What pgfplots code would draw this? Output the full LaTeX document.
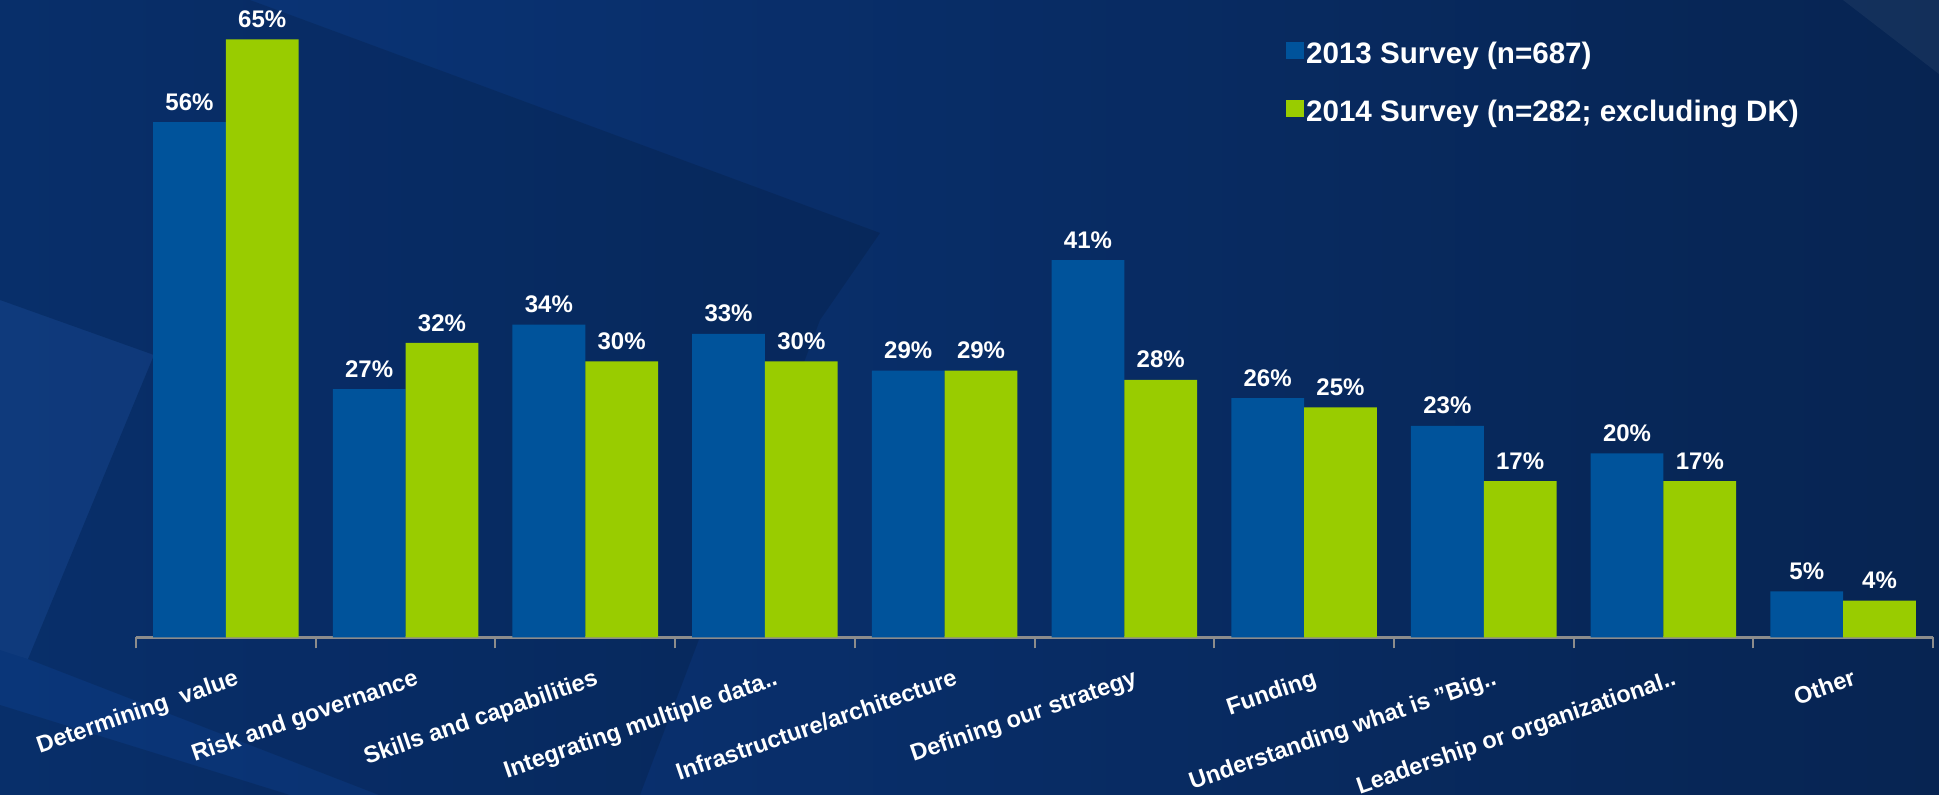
\documentclass[border=0pt]{standalone}
\usepackage{pgfplots}
\pgfplotsset{compat=1.18}
\usepackage{fontspec}
\setmainfont{Liberation Sans}
\definecolor{bar13}{RGB}{0,83,155}
\definecolor{bar14}{RGB}{153,204,0}
\definecolor{bgL}{RGB}{13,64,140}
\definecolor{bgM}{RGB}{9,48,110}
\definecolor{bgR}{RGB}{5,28,62}
\definecolor{axgray}{RGB}{140,140,140}
\pgfdeclarehorizontalshading{bgshade}{100bp}{color(0bp)=(bgL); color(40bp)=(bgM); color(100bp)=(bgR)}
\begin{document}
\begin{tikzpicture}
\begin{scope}[x=0.5pt,y=-0.5pt]
\shade[shading=bgshade] (0,0) rectangle (1939,795);
\fill[black,opacity=0.12] (250,0) -- (880,233) -- (820,320) -- (640,795) -- (379,795) -- (28,659) -- (154,355) -- (0,300) -- (0,0) -- cycle;
\fill[white,opacity=0.025] (0,300) -- (154,355) -- (28,659) -- (0,650) -- cycle;
\fill[black,opacity=0.12] (0,705) -- (290,795) -- (0,795) -- cycle;
\fill[white,opacity=0.05] (1843,0) -- (1939,0) -- (1939,74) -- cycle;
\end{scope}
\begin{axis}[
  at={(68pt,-318.75pt)}, anchor=south west,
  scale only axis, width=898.5pt, height=318.75pt,
  ybar=0pt, bar width=0.405,
  xmin=-0.5, xmax=9.5, ymin=0, ymax=69.27,
  clip=false,
  axis x line*=bottom, axis y line=none,
  axis line style={draw=axgray, line width=1.6pt},
  xtick={0,...,9},
  xticklabels={{Determining~ value},{Risk and governance},{Skills and capabilities},{Integrating multiple data..},{Infrastructure/architecture},{Defining our strategy},{Funding},{Understanding what is "Big..},{Leadership or organizational..},{Other}},
  minor xtick={-0.5,0.5,...,9.5},
  tick align=outside, major tick length=0pt, minor tick length=5.5pt,
  minor tick style={draw=axgray, line width=1pt},
  major tick style={draw=none},
  xticklabel style={rotate=19, anchor=north east, inner sep=0pt, xshift=-1pt, yshift=-15.8pt, text=white, font=\fontsize{11.8}{14}\selectfont\bfseries},
  ytick=\empty,
  nodes near coords={\pgfmathprintnumber{\pgfplotspointmeta}\%},
  every node near coord/.append style={text=white, font=\fontsize{12}{14}\selectfont\bfseries, yshift=2.3pt, /pgf/number format/assume math mode=true},
  legend image code/.code={\fill[#1] (0pt,-2.5pt) rectangle (8.8pt,6.3pt);},
  legend style={at={(0.640,0.938)}, anchor=north west, draw=none, fill=none, inner sep=0pt, outer sep=0pt, row sep=14.5pt, text=white, font=\fontsize{14.8}{17}\selectfont\bfseries, nodes={inner sep=1.2pt}},
  legend cell align=left,
]
\addplot[fill=bar13, draw=none] coordinates {(0,56) (1,27) (2,34) (3,33) (4,29) (5,41) (6,26) (7,23) (8,20) (9,5)};
\addplot[fill=bar14, draw=none] coordinates {(0,65) (1,32) (2,30) (3,30) (4,29) (5,28) (6,25) (7,17) (8,17) (9,4)};
\legend{2013 Survey (n=687), 2014 Survey (n=282; excluding DK)}
\end{axis}
\pgfresetboundingbox
\path[use as bounding box] (0pt,0pt) rectangle (969.5pt,-397.5pt);
\end{tikzpicture}
\end{document}
